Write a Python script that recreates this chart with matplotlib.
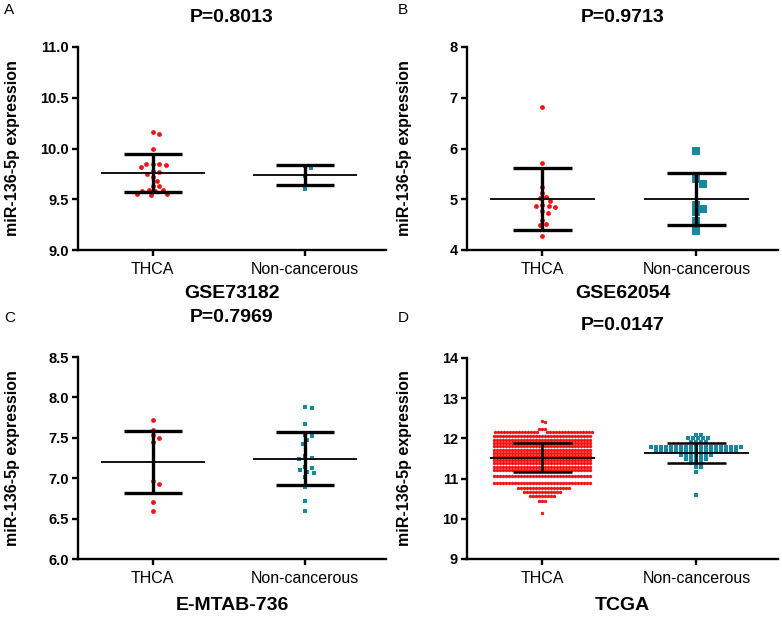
import numpy as np
import matplotlib
matplotlib.use('Agg')
import matplotlib.pyplot as plt

plt.rcParams['font.family'] = ['Liberation Sans', 'DejaVu Sans']

RED = '#f01414'
TEAL = '#168a9c'

groups = ['THCA', 'Non-cancerous']

# --- A: GSE73182 ---
a_thca = [10.16, 10.14, 10.00, 9.85, 9.85, 9.84, 9.85, 9.82, 9.78, 9.77, 9.75,
          9.72, 9.68, 9.63, 9.63, 9.59, 9.58, 9.58, 9.59, 9.55, 9.54, 9.55]
a_normal = [9.83, 9.81, 9.73, 9.60]
a_mean = [9.76, 9.74]
a_sd = [0.19, 0.10]

# --- B: GSE62054 ---
b_thca = [6.82, 5.71, 5.25, 5.13, 5.05, 5.03, 4.97, 4.88, 4.87, 4.87, 4.85,
          4.77, 4.72, 4.60, 4.52, 4.50, 4.27]
b_normal = [5.96, 5.39, 5.31, 4.89, 4.81, 4.75, 4.57, 4.37]
b_mean = [5.00, 5.01]
b_sd = [0.61, 0.515]

# --- C: E-MTAB-736 ---
c_thca = [7.72, 7.60, 7.53, 7.50, 7.45, 6.96, 6.93, 6.71, 6.59]
c_normal = [7.88, 7.87, 7.67, 7.53, 7.52, 7.47, 7.42, 7.27, 7.25, 7.24,
            7.14, 7.13, 7.10, 7.08, 7.06, 7.02, 6.89, 6.72, 6.60]
c_mean = [7.20, 7.24]
c_sd = [0.385, 0.33]

# --- D: TCGA (read as rows of dots: level, number of dots in the row) ---
d_thca_levels = [12.43, 12.40, 12.23, 12.17, 12.06, 11.96, 11.88, 11.80, 11.71,
                 11.63, 11.55, 11.46, 11.38, 11.30, 11.21, 11.06, 10.90, 10.77,
                 10.67, 10.57, 10.44, 10.14]
d_thca_counts = [1, 1, 3, 31, 33, 33, 33, 33, 33, 33, 33, 33, 33, 33, 33, 33,
                 33, 18, 13, 9, 3, 1]
d_normal_levels = [12.08, 12.00, 11.90, 11.78, 11.68, 11.58, 11.49, 11.39,
                   11.28, 11.16, 10.58]
d_normal_counts = [2, 5, 4, 19, 17, 7, 5, 3, 2, 1, 1]
d_mean = [11.52, 11.63]
d_sd = [0.365, 0.245]

d_thca = np.repeat(d_thca_levels, d_thca_counts)
d_normal = np.repeat(d_normal_levels, d_normal_counts)

W, H = 782, 617
fig = plt.figure(figsize=(W / 100, H / 100), dpi=100)


def axes_px(left, top, right, bottom):
    return fig.add_axes([left / W, 1 - bottom / H, (right - left) / W, (bottom - top) / H])


def swarm(ax, x0, vals, dx_min, dy_min):
    # simple beeswarm in pixel space, elliptical collision
    tr = ax.transData
    ppu = tr.transform((1, 0))[0] - tr.transform((0, 0))[0]
    ys = np.array([tr.transform((x0, v))[1] for v in vals])
    steps = np.arange(0.5, 200, 0.5)
    cand = np.concatenate([[0.0], np.column_stack([steps, -steps]).ravel()])
    px, py = [], []
    xs = np.zeros(len(vals))
    for i in np.argsort(-ys, kind='stable'):
        y = ys[i]
        off = 0.0
        if px:
            ax_ = np.array(px)
            ay_ = np.array(py)
            near = np.abs(ay_ - y) < dy_min
            if near.any():
                dx = (cand[:, None] - ax_[near][None, :]) / dx_min
                dy = (y - ay_[near]) / dy_min
                ok = np.all(dx ** 2 + dy[None, :] ** 2 >= 1 - 1e-6, axis=1)
                off = cand[np.argmax(ok)]
        px.append(off)
        py.append(y)
        xs[i] = x0 + off / ppu
    return xs


def panel(rect, ylim, yticks, fmt, thca, normal, mean, sd, styles, letter,
          ptxt, xlab, letter_xy, title_y, xlab_y, ylab_x, err_lw=2.4):
    ax = axes_px(*rect)
    ax.set_xlim(-0.49, 1.53)
    ax.set_ylim(*ylim)
    for s in ['top', 'right']:
        ax.spines[s].set_visible(False)
    for s in ['left', 'bottom']:
        ax.spines[s].set_linewidth(1.7)
    ax.set_yticks(yticks)
    ax.set_yticklabels([fmt % t for t in yticks], fontweight='bold', fontsize=10.5)
    ax.set_xticks([0, 1])
    ax.set_xticklabels(groups, fontsize=11.5)
    ax.tick_params(axis='both', direction='out', length=4.5, width=1.7)
    ax.tick_params(axis='x', pad=4)
    ax.tick_params(axis='y', pad=2)

    for k, vals in enumerate([thca, normal]):
        st = styles[k]
        xs = swarm(ax, k, vals, st['dx'], st['dy'])
        ax.scatter(xs, vals, s=st['s'], marker=st['m'], color=st['c'],
                   linewidths=0, zorder=2)
        ax.hlines(mean[k], k - 0.34, k + 0.34, color='black', lw=1.3, zorder=3)
        ax.vlines(k, mean[k] - sd[k], mean[k] + sd[k], color='black', lw=err_lw, zorder=3)
        ax.hlines([mean[k] - sd[k], mean[k] + sd[k]], k - 0.19, k + 0.19,
                  color='black', lw=err_lw, zorder=3)

    cx = (rect[0] + rect[2]) / 2 / W
    cy = 1 - (rect[1] + rect[3]) / 2 / H
    fig.text(letter_xy[0] / W, 1 - letter_xy[1] / H, letter, fontsize=11,
             ha='left', va='center')
    fig.text(cx, 1 - title_y / H, ptxt, fontsize=14, fontweight='bold',
             ha='center', va='center')
    fig.text(cx, 1 - xlab_y / H, xlab, fontsize=14, fontweight='bold',
             ha='center', va='center')
    fig.text(ylab_x / W, cy, 'miR-136-5p expression', fontsize=11.5,
             fontweight='bold', rotation=90, ha='center', va='center')
    return ax


small_red = {'m': 'o', 's': 12, 'c': RED, 'dx': 6.5, 'dy': 5}
small_teal = {'m': 's', 's': 9, 'c': TEAL, 'dx': 6.5, 'dy': 5}

panel((78, 47, 386, 250), (9.0, 11.0), [9.0, 9.5, 10.0, 10.5, 11.0], '%.1f',
      a_thca, a_normal, a_mean, a_sd, [small_red, small_teal],
      'A', 'P=0.8013', 'GSE73182', (4, 10), 18, 293, 13)

panel((467, 47, 778, 250), (4, 8), [4, 5, 6, 7, 8], '%d',
      b_thca, b_normal, b_mean, b_sd,
      [small_red, {'m': 's', 's': 30, 'c': TEAL, 'dx': 7.5, 'dy': 7}],
      'B', 'P=0.9713', 'GSE62054', (398, 10), 18, 293, 404)

panel((78, 357, 386, 559), (6.0, 8.5), [6.0, 6.5, 7.0, 7.5, 8.0, 8.5], '%.1f',
      c_thca, c_normal, c_mean, c_sd, [small_red, small_teal],
      'C', 'P=0.7969', 'E-MTAB-736', (4, 318), 317, 605, 13)

panel((467, 358, 778, 559), (9, 14), [9, 10, 11, 12, 13, 14], '%d',
      d_thca, d_normal, d_mean, d_sd,
      [{'m': 'o', 's': 6, 'c': RED, 'dx': 3, 'dy': 3},
       {'m': 's', 's': 6, 'c': TEAL, 'dx': 5, 'dy': 3.5}],
      'D', 'P=0.0147', 'TCGA', (398, 318), 325, 605, 404, err_lw=1.8)

fig.savefig('out.png', dpi=100)
